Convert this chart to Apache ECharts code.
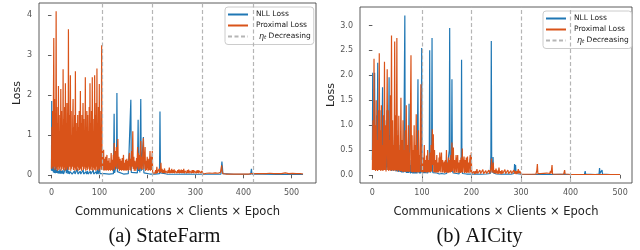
<!DOCTYPE html>
<html>
<head>
<meta charset="utf-8">
<script src="https://cdn.jsdelivr.net/npm/echarts@6/dist/echarts.min.js"></script>
<style>
  html, body { margin: 0; padding: 0; background: #fff; }
  #main { width: 640px; height: 250px; }
</style>
</head>
<body>
<div id="main"></div>
<script>
// ---- StateFarm (a) ----
var nllA = [
  [0,0.1],[0.5,1.85],[1,0.3],[2,0.1],[3,0.28],[4,0.06],[5,0.22],[6,0.05],[7,0.15],[8,0.04],[9,0.25],[10,0.05],[12,0.12],[13,0.04],[15,0.1],[16,0.03],[18,0.14],[19,0.03],[21,0.09],[22,0.03],[24,0.12],[25,0.02],[27,0.08],[28,0.03],[30,0.22],[31,0.04],[33,0.3],[34,0.03],[36,0.1],[37,0.02],[39,0.08],[40,0.03],[42,0.12],[43,0.02],[45,0.06],[46,0.02],[48,0.1],[49,0.02],[51,0.07],[52,0.02],[54,0.15],[55,0.02],[57,0.06],[58,0.02],[60,0.09],[61,0.02],[63,0.05],[64,0.02],[66,0.12],[67,0.02],[69,0.05],[70,0.02],[72,0.08],[73,0.02],[75,0.1],[76,0.02],[78,0.05],[79,0.02],[81,0.09],[82,0.02],[84,0.06],[85,0.02],[87,0.12],[88,0.02],[90,0.06],[91,0.02],[93,0.08],[94,0.02],[96,0.15],[97,0.02],[99,0.1],[100,0.3],[101,0.03],[103,0.06],[104,0.02],
  [110,0.03],[120,0.02],[129,0.03],[130.5,1.53],[131.5,0.05],[133,0.03],[135.5,0.3],[136.3,2.05],[137.3,0.08],[140,0.03],[150,0.02],[160,0.03],[164,0.04],[165.3,1.88],[166.3,0.06],[170,0.03],[179,0.05],[180.5,1.38],[181.5,0.1],[183,0.3],[184,0.06],[186,1.9],[187,0.1],[189,0.05],[191.5,0.95],[192.5,0.05],[196,0.03],[205,0.02],[215,0.02],[225,0.03],[226,1.59],[227,0.05],[229,0.03],
  [240,0.02],[260,0.015],[280,0.02],[300,0.015],[320,0.015],[340,0.015],[353,0.02],[355,0.33],[356,0.2],[357,0.03],[380,0.015],[400,0.015],[415,0.02],[416.5,0.15],[417.5,0.02],[440,0.015],[470,0.01],[500,0.01],[524,0.01]
];
var proxA = [
  [0,0.15],[0.8,1.2],[1.6,0.2],[2.4,1.6],[3.2,0.15],[4.8,3.43],[5.6,0.2],[6.4,1.9],[7.2,0.12],[8,1.4],[8.8,0.2],[9.7,4.1],[10.5,0.15],[11.3,1.7],[12.1,0.1],[12.9,1.3],[13.7,0.2],[14.5,2.23],[15.3,0.12],[16.1,1.5],[16.9,0.15],[17.7,1.1],[18.5,0.2],[19.4,2.15],[20.2,0.1],[21,1.6],[21.8,0.15],[22.6,1.2],[23.4,0.2],[24.2,2.65],[25,0.12],[25.8,1.4],[26.6,0.18],[27.4,1.7],[28.2,0.1],[29,2.3],[29.8,0.15],[30.6,1.3],[31.4,0.12],[32.2,1.8],[33,0.2],[33.8,1.1],[34.6,0.15],[35.3,3.65],[36.1,0.12],[36.9,1.5],[37.7,0.2],[38.5,1.2],[39.4,2.5],[40.2,0.1],[41,1.6],[41.8,0.15],[42.6,1.0],[43.4,0.2],[44.2,1.4],[45,1.9],[45.8,0.12],[46.6,1.2],[47.4,0.18],[48.2,1.5],[49,0.1],[49.8,2.6],[50.6,0.15],[51.4,1.1],[52.2,0.12],[53,1.3],[53.8,0.2],[54.6,1.5],[55.4,0.1],[56.2,1.2],[57,0.18],[57.8,1.6],[58.6,0.12],[59.4,0.9],[60.2,2.1],[61,0.15],[61.8,1.3],[62.6,0.1],[63.4,1.5],[64.2,0.2],[65,1.0],[65.7,1.8],[66.5,0.12],[67.3,1.4],[68.1,0.15],[68.9,1.1],[69.7,0.2],[70.5,2.45],[71.3,0.1],[72.1,1.2],[72.9,0.18],[73.7,1.6],[74.5,0.12],[75.4,1.5],[76.2,0.15],[77,1.1],[77.8,0.2],[78.6,1.7],[79.4,0.1],[80.2,2.3],[81,0.15],[81.8,1.3],[82.6,0.12],[83.4,1.6],[84.2,0.2],[85,2.45],[85.8,0.1],[86.6,1.4],[87.4,0.18],[88.2,1.1],[89,0.12],[89.9,2.5],[90.7,0.15],[91.5,1.5],[92.3,0.1],[93.1,1.8],[93.9,0.2],[94.7,2.67],[95.5,0.12],[96.3,1.3],[97.1,0.15],[97.9,1.7],[98.7,0.1],[99.6,2.28],[100.4,0.15],[101.2,1.2],[102,0.2],[102.8,1.6],[103.6,0.12],[104.5,3.25],[105.3,0.15],
  [106,0.6],[106.8,0.12],[108.6,0.63],[109.4,0.1],[110.8,0.4],[111.6,0.12],[113,0.45],[113.8,0.1],[115.5,0.5],[116.3,0.12],[117.7,0.35],[118.5,0.1],[119.9,0.42],[120.7,0.12],[122.1,0.3],[122.9,0.1],[124.4,0.55],[125.2,0.12],[126.6,0.38],[127.4,0.1],[128.8,0.5],[129.6,0.15],[130.7,0.8],[131.5,0.12],[132.9,0.6],[133.7,0.2],[135.1,0.7],[135.9,0.15],[137,0.5],[138.3,0.9],[139.1,0.15],[140.5,0.45],[141.3,0.1],[143,0.4],[143.8,0.12],[145.2,0.35],[146,0.1],[147.4,0.42],[148.2,0.12],[150,0.5],[150.8,0.1],[152.2,0.3],[153,0.12],[154.4,0.38],[155.2,0.1],[157,0.4],[157.8,0.12],[159.2,0.35],[160,0.1],[161.4,0.45],[162.5,0.55],[163.3,0.12],[164.7,0.4],[165.5,0.1],[166.9,0.6],[167.7,0.2],[169.4,1.09],[170.2,0.15],[171.6,0.45],[172.4,0.1],[173.8,0.35],[175,0.4],[175.8,0.1],[177.2,0.42],[178,0.15],[179.4,0.7],[180.2,0.2],[181,0.55],[181.8,0.12],[183.2,0.5],[184,0.15],[186,0.85],[186.8,0.15],[188.2,0.45],[189,0.12],[190.4,0.6],[191.5,0.92],[192.3,0.15],[193.7,0.4],[195,0.7],[195.8,0.1],[197.2,0.35],[198,0.12],[199.4,0.45],[200.5,0.5],[201.3,0.1],[202.7,0.4],[203.5,0.12],[205.3,0.6],[206.1,0.1],[207.5,0.45],[208.3,0.12],[210,0.6],[210.8,0.05],
  [212,0.08],[213,0.03],[214.5,0.1],[215.5,0.04],[217,0.12],[218,0.03],[219.5,0.2],[220.5,0.05],[222,0.1],[223,0.04],[224.5,0.15],[225.5,0.05],[227,0.12],[228,0.3],[229,0.06],[230.5,0.15],[231.5,0.04],[233,0.12],[234,0.05],[235.5,0.16],[236.5,0.04],[238,0.1],[239,0.05],[240.5,0.15],[241.5,0.04],[243,0.12],[244,0.05],[245.5,0.18],[246.5,0.04],[248,0.11],[249,0.05],[250.5,0.15],[251.5,0.04],[253,0.12],[254,0.05],[255.5,0.14],[256.5,0.04],[258,0.1],[259,0.05],[260.5,0.15],[261.5,0.04],[263,0.12],[264,0.05],[265.5,0.14],[266.5,0.04],[268,0.11],[269,0.05],[270.5,0.13],[271.5,0.04],[273,0.12],[274,0.05],[275.5,0.15],[276.5,0.04],[278,0.1],[279,0.05],[280.5,0.14],[281.5,0.04],[283,0.12],[284,0.05],[285.5,0.13],[286.5,0.04],[288,0.1],[289,0.05],[290.5,0.14],[291.5,0.04],[293,0.12],[294,0.05],[295.5,0.12],[296.5,0.04],[298,0.1],[299,0.05],[300.5,0.13],[301.5,0.04],[303,0.11],[304,0.05],[305.5,0.12],[306.5,0.04],[308,0.1],[309,0.05],[310.5,0.12],[311.5,0.04],[313,0.1],[314,0.05],[315,0.1],[316,0.02],
  [318,0.04],[320,0.02],[323,0.04],[326,0.02],[329,0.045],[332,0.02],[335,0.04],[338,0.02],[341,0.05],[344,0.02],[347,0.04],[350,0.02],[352,0.06],[353.5,0.15],[354.5,0.24],[355.5,0.1],[357,0.03],[360,0.045],[363,0.02],[366,0.04],[369,0.02],[372,0.05],[375,0.02],[378,0.04],[381,0.02],[384,0.04],[387,0.02],[390,0.045],[393,0.02],[396,0.04],[399,0.02],[402,0.05],[405,0.02],[408,0.04],[411,0.02],[414,0.06],[416,0.03],[418,0.05],[420,0.02],
  [423,0.03],[427,0.015],[431,0.03],[435,0.015],[439,0.03],[443,0.015],[447,0.03],[451,0.015],[455,0.04],[459,0.015],[463,0.03],[467,0.015],[471,0.03],[475,0.015],[479,0.03],[483,0.015],[487,0.05],[490,0.015],[494,0.03],[498,0.015],[502,0.035],[506,0.015],[510,0.03],[514,0.015],[518,0.03],[521,0.015],[524,0.02]
];
var epochMarksA = [105, 210, 315, 420];

// ---- AICity (b) ----
var nllB = [
  [0,0.3],[0.6,2.05],[1.3,0.2],[2.2,0.9],[3,0.15],[4.5,2.05],[5.3,0.2],[6.5,0.8],[7.3,0.12],[8.6,1.2],[9.4,0.2],[10.8,2.25],[11.6,0.15],[13,0.6],[13.8,0.12],[15.2,1.3],[16,0.2],[17.4,0.5],[18.2,0.1],[19.6,1.0],[20.5,1.76],[21.3,0.15],[22.7,0.7],[23.5,0.12],[24.9,1.1],[25.7,0.18],[27.1,0.5],[27.9,0.1],[29.3,1.3],[30.1,0.15],[31.5,0.6],[32.3,0.1],[33.7,1.96],[34.5,0.12],[35.9,0.8],[36.7,0.1],[38.1,0.5],[38.9,0.08],[40.3,1.0],[41.1,0.1],[42.5,0.4],[43.3,0.08],[44.7,0.7],[45.5,0.1],[46.9,0.45],[47.7,0.07],[49.1,0.9],[49.9,0.08],[51.3,0.35],[52.1,0.06],[53.5,0.6],[54.3,0.07],[55.7,0.3],[56.5,0.06],[57.9,0.5],[58.7,0.05],[60.1,0.25],[60.9,0.05],[62.3,0.4],[63.1,0.05],[65.5,3.2],[66.3,0.06],[67.7,0.3],[68.5,0.04],[69.9,0.2],[70.7,0.04],[72.1,0.5],[72.9,0.04],[74,1.43],[74.8,0.05],[76.2,0.2],[77,0.03],[78.4,0.3],[79.2,0.04],[80.6,0.15],[81.4,0.03],[82.8,0.25],[83.6,0.03],[85,0.15],[85.8,0.03],[87.2,0.3],[88,0.03],[89.4,0.12],[90.2,0.03],[92,1.92],[92.8,0.05],[94.2,0.15],[95,0.03],[96.4,0.2],[97.2,0.03],[98.6,0.4],[99.5,2.55],[100.3,0.05],
  [103,0.03],[106,0.05],[109,0.02],[112,0.04],[114.8,0.3],[115.7,2.5],[116.5,0.1],[117.5,0.05],[119.5,0.4],[120.4,2.75],[121.2,0.1],[122,0.05],[126,0.03],[130,0.04],[135,0.02],[140,0.03],[145,0.02],[150,0.03],[154,0.04],[155.2,0.5],[156,2.95],[156.8,0.6],[157.6,0.08],[159.8,0.4],[160.6,1.92],[161.4,0.1],[163,0.04],[170,0.03],[175,0.02],[179.2,0.3],[180,2.31],[180.8,0.1],[182,0.03],[190,0.02],[200,0.02],
  [210,0.02],[220,0.015],[230,0.02],[238,0.03],[239.2,0.4],[240,2.69],[240.8,0.3],[241.6,0.05],[243,0.1],[243.6,0.36],[244.4,0.04],[250,0.02],[260,0.015],[270,0.02],[280,0.015],[286,0.03],[287,0.22],[288,0.05],[289,0.2],[290,0.03],[300,0.015],
  [320,0.01],[340,0.015],[360,0.01],[380,0.015],[400,0.01],[428,0.015],[429.5,0.08],[430.5,0.02],[450,0.01],[457.5,0.02],[458.5,0.14],[459.5,0.03],[462.5,0.02],[463.5,0.1],[464.5,0.02],[480,0.01],[500,0.01]
];
var proxB = [
  [0,0.1],[1.2,1.1],[2.1,0.1],[3.3,2.33],[4.3,0.1],[5.5,1.0],[6.4,0.08],[7.6,1.5],[8.5,0.1],[9.7,0.7],[10.6,0.08],[11.8,1.3],[12.7,0.1],[13.9,2.44],[14.9,0.1],[16.1,0.9],[17,0.08],[18.2,1.4],[19.1,0.1],[20.3,0.6],[21.2,0.08],[22.4,1.2],[23.3,0.1],[24.4,2.27],[25.4,0.1],[26.6,1.0],[27.5,0.07],[28.7,0.6],[29.9,2.12],[30.9,0.1],[32.1,1.3],[33,0.08],[34.2,0.7],[35.1,0.1],[36.3,1.6],[37.2,0.08],[38.6,2.8],[39.6,0.1],[40.8,1.1],[41.7,0.08],[42.9,0.6],[43.8,0.1],[45,2.68],[46,0.08],[47.2,1.2],[48.1,0.1],[49.4,2.75],[50.4,0.07],[51.6,0.8],[52.5,0.1],[53.3,1.19],[54.2,0.08],[55.4,0.5],[56.3,0.07],[57.6,1.55],[58.6,0.08],[59.8,0.7],[60.7,0.06],[61.9,1.1],[62.8,0.07],[64,0.5],[64.9,0.06],[66.1,0.9],[67,0.07],[68.4,1.4],[69.4,0.06],[70.6,0.6],[71.5,0.07],[72.7,1.0],[73.6,0.06],[74.8,0.45],[75.7,0.07],[77.9,2.4],[78.9,0.06],[80.1,0.8],[81,0.05],[82.2,0.5],[83.1,0.06],[84.3,1.0],[85.2,0.05],[86.4,0.6],[87.3,0.06],[88.5,1.22],[89.5,0.05],[90.7,0.5],[91.6,0.06],[92.8,0.9],[93.7,0.05],[94.9,0.4],[95.8,0.06],[97.9,1.82],[98.9,0.06],[100.1,0.3],[101,0.05],
  [102.5,0.35],[103.4,0.05],[104.8,0.6],[105.7,0.06],[107.1,0.3],[108,0.05],[109.3,0.39],[110.2,0.05],[111.6,0.5],[112.5,0.06],[113.9,0.3],[114.8,0.05],[116.2,0.45],[117.1,0.06],[118.5,0.6],[119.4,0.07],[121,0.92],[122,0.2],[123,0.82],[124,0.06],[125.4,0.5],[126.3,0.05],[127.7,0.3],[128.6,0.05],[130,0.4],[130.9,0.05],[132.3,0.25],[133.2,0.05],[134.6,0.35],[135.3,0.08],[136,0.45],[136.9,0.05],[138.3,0.3],[139.5,0.45],[140.4,0.05],[141.8,0.3],[142.7,0.05],[144.1,0.2],[145,0.27],[145.9,0.04],[147.3,0.3],[148.2,0.05],[149.5,0.5],[150.4,0.05],[151.8,0.25],[152.7,0.04],[154.1,0.35],[155,0.05],[156.4,0.3],[157.3,0.05],[158.7,0.4],[159.6,0.06],[160.6,0.65],[161.5,0.08],[163.5,0.55],[164.4,0.05],[165.8,0.3],[166.7,0.04],[168.1,0.25],[169,0.4],[169.9,0.05],[171.3,0.3],[172.2,0.4],[173.1,0.04],[174.5,0.25],[175.4,0.05],[176.8,0.3],[177.7,0.04],[179.1,0.35],[180,0.05],[181.5,0.53],[182.4,0.05],[183.8,0.25],[185,0.37],[185.9,0.04],[187.3,0.3],[188.2,0.05],[189.5,0.35],[190.4,0.04],[192,0.37],[192.9,0.05],[194.3,0.25],[195.2,0.04],[196.6,0.3],[197.5,0.4],[198.4,0.05],[199.6,0.45],[200.5,0.03],
  [202,0.06],[203.5,0.02],[205,0.07],[206.5,0.02],[208,0.08],[209.5,0.03],[211,0.12],[212.5,0.03],[214,0.07],[215.5,0.02],[217,0.1],[218.5,0.03],[220,0.06],[221.5,0.02],[223,0.11],[224.5,0.03],[226,0.07],[227.5,0.02],[229,0.09],[230.5,0.03],[232,0.06],[233.5,0.02],[235,0.1],[236.5,0.03],[238,0.08],[239.5,0.15],[240.5,0.33],[241.5,0.05],[243,0.12],[244,0.25],[245,0.04],[246.5,0.1],[248,0.03],[249.5,0.13],[251,0.03],[252.5,0.09],[254,0.02],[255.5,0.15],[257,0.03],[258.5,0.08],[260,0.02],[261.5,0.1],[263,0.03],[264.5,0.07],[266,0.02],[267.5,0.11],[269,0.03],[270.5,0.07],[272,0.02],[273.5,0.1],[275,0.03],[276.5,0.06],[278,0.02],[279.5,0.09],[281,0.03],[282.5,0.07],[284,0.02],[285.5,0.1],[287,0.03],[288.5,0.08],[290,0.02],[291.5,0.08],[293,0.03],[294.5,0.12],[296,0.03],[297.5,0.08],[299,0.1],[300,0.02],
  [303,0.035],[306,0.015],[309,0.03],[312,0.015],[315,0.04],[318,0.015],[321,0.03],[324,0.015],[327,0.035],[330,0.015],[332,0.1],[333,0.22],[334,0.03],[337,0.015],[340,0.03],[343,0.015],[346,0.035],[349,0.015],[352,0.04],[353.5,0.07],[355,0.015],[358,0.03],[359.5,0.08],[360.5,0.03],[361.5,0.1],[362.6,0.2],[363.6,0.02],[366,0.03],[369,0.015],[372,0.035],[375,0.015],[378,0.03],[381,0.015],[384,0.04],[386,0.015],[388,0.1],[389,0.02],[392,0.03],[395,0.015],[398,0.03],[400,0.01],
  [404,0.02],[408,0.01],[412,0.02],[416,0.01],[420,0.02],[424,0.01],[428,0.02],[432,0.01],[436,0.02],[440,0.01],[444,0.02],[448,0.01],[452,0.02],[456,0.01],[460,0.02],[464,0.01],[468,0.02],[472,0.01],[476,0.02],[480,0.01],[482.5,0.04],[484,0.05],[485.5,0.01],[489,0.02],[493,0.01],[497,0.02],[500,0.01]
];
var epochMarksB = [100, 200, 300, 400];

var xTicksA = [0, 100, 200, 300, 400, 500];
var yTicksA = [0, 1, 2, 3, 4];
var xTicksB = [0, 100, 200, 300, 400, 500];
var yTicksB = [0, 0.5, 1.0, 1.5, 2.0, 2.5, 3.0];

var blue = '#1f77b4';
var orange = '#d95319';
var font = 'DejaVu Sans';

function xAxisFor(idx, min, max, ticks) {
    return {
        type: 'value', gridIndex: idx, min: min, max: max,
        name: 'Communications × Clients × Epoch',
        nameLocation: 'middle', nameGap: 23,
        nameTextStyle: { fontFamily: font, fontSize: 11.5, color: '#222' },
        axisLine: { show: false },
        axisTick: { show: true, length: 3.5, customValues: ticks, lineStyle: { color: '#333', width: 0.8 } },
        axisLabel: { customValues: ticks, fontFamily: font, fontSize: 8, color: '#555', margin: 6 },
        splitLine: { show: false }
    };
}
function yAxisFor(idx, min, max, ticks, fmt) {
    return {
        type: 'value', gridIndex: idx, min: min, max: max,
        name: 'Loss', nameLocation: 'middle', nameGap: idx === 0 ? 10 : 18,
        nameTextStyle: { fontFamily: font, fontSize: 11, color: '#222' },
        axisLine: { show: false },
        axisTick: { show: true, length: 3.5, customValues: ticks, lineStyle: { color: '#333', width: 0.8 } },
        axisLabel: { customValues: ticks, fontFamily: font, fontSize: 8, color: '#555', margin: 7, formatter: fmt },
        splitLine: { show: false }
    };
}
function lineSeries(name, data, color, idx, z) {
    return {
        name: name, type: 'line', data: data, xAxisIndex: idx, yAxisIndex: idx,
        symbol: 'none', showSymbol: false, z: z,
        lineStyle: { color: color, width: 1.2 }, itemStyle: { color: color }
    };
}
function markSeries(marks, idx) {
    return {
        name: 'eta', type: 'line', data: [], xAxisIndex: idx, yAxisIndex: idx,
        symbol: 'none', z: 1,
        lineStyle: { color: '#b5b5b5', width: 1.2, type: [4, 2.5] },
        itemStyle: { color: '#b5b5b5' },
        markLine: {
            silent: true, symbol: 'none', label: { show: false },
            lineStyle: { color: '#b5b5b5', width: 1.2, type: [4, 2.5] },
            data: marks.map(function (m) { return { xAxis: m }; })
        }
    };
}
function legendFor(left, top) {
    return {
        orient: 'vertical', left: left, top: top,
        data: ['NLL Loss', 'Proximal Loss', 'eta'],
        itemWidth: 20, itemHeight: 9, itemGap: 3,
        padding: [3.5, 3, 3.5, 2],
        itemStyle: { opacity: 0 },
        backgroundColor: 'rgba(255,255,255,0.8)',
        borderColor: '#ccc', borderWidth: 1, borderRadius: 3,
        textStyle: {
            fontFamily: font, fontSize: 7.5, color: '#222', padding: [0, 0, 0, 3],
            rich: {
                e: { fontFamily: font, fontSize: 8, fontStyle: 'italic', color: '#222', padding: [0, 0, 0, 3] },
                s: { fontFamily: font, fontSize: 5.5, fontStyle: 'italic', color: '#222', verticalAlign: 'bottom', padding: [3, 0, 0, 0] },
                d: { fontFamily: font, fontSize: 7.5, color: '#222' }
            }
        },
        formatter: function (name) {
            return name === 'eta' ? '{e|η}{s|t}{d| Decreasing}' : name;
        }
    };
}

var chart = echarts.init(document.getElementById('main'), null, { renderer: 'canvas' });
var option = {
    animation: false,
    backgroundColor: '#fff',
    grid: [
        { left: 39, top: 3, width: 277, height: 180, show: true, borderColor: '#333', borderWidth: 0.8, backgroundColor: '#fff' },
        { left: 360, top: 7, width: 272, height: 176, show: true, borderColor: '#333', borderWidth: 0.8, backgroundColor: '#fff' }
    ],
    xAxis: [xAxisFor(0, -26, 551, xTicksA), xAxisFor(1, -25, 524, xTicksB)],
    yAxis: [
        yAxisFor(0, -0.205, 4.31, yTicksA, function (v) { return String(v); }),
        yAxisFor(1, -0.16, 3.37, yTicksB, function (v) { return v.toFixed(1); })
    ],
    legend: [legendFor(225, 7), legendFor(543, 11)],
    series: [
        markSeries(epochMarksA, 0),
        lineSeries('NLL Loss', nllA, blue, 0, 2),
        lineSeries('Proximal Loss', proxA, orange, 0, 3),
        markSeries(epochMarksB, 1),
        lineSeries('NLL Loss', nllB, blue, 1, 2),
        lineSeries('Proximal Loss', proxB, orange, 1, 3)
    ],
    graphic: [
        { type: 'text', x: 164.5, y: 237, style: { text: '(a) StateFarm', font: '20.5px "Liberation Serif"', fill: '#111', align: 'center', verticalAlign: 'middle' } },
        { type: 'text', x: 479.5, y: 237, style: { text: '(b) AICity', font: '20.5px "Liberation Serif"', fill: '#111', align: 'center', verticalAlign: 'middle' } }
    ]
};
chart.setOption(option);
</script>
</body>
</html>
